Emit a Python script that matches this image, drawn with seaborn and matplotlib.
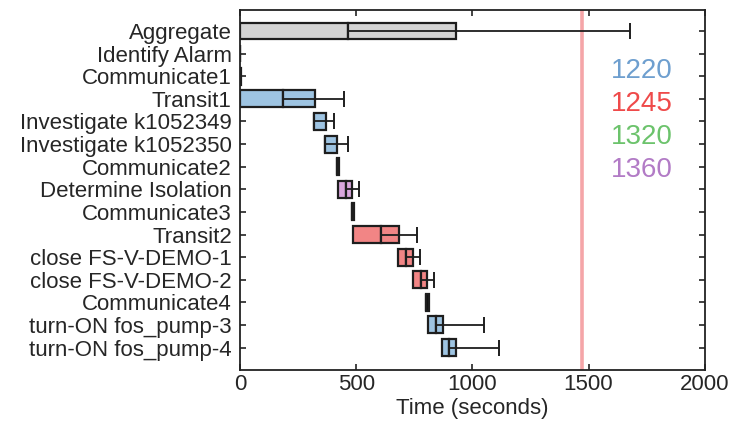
import numpy as np
import pandas as pd
import matplotlib
matplotlib.use("Agg")
import matplotlib.pyplot as plt
import seaborn as sns

# task rows, top to bottom
tasks = [
    "Aggregate",
    "Identify Alarm",
    "Communicate1",
    "Transit1",
    "Investigate k1052349",
    "Investigate k1052350",
    "Communicate2",
    "Determine Isolation",
    "Communicate3",
    "Transit2",
    "close FS-V-DEMO-1",
    "close FS-V-DEMO-2",
    "Communicate4",
    "turn-ON fos_pump-3",
    "turn-ON fos_pump-4",
]

# times in seconds
start = [0, 0, 0, 0, 318, 365, 418, 422, 480, 487, 680, 744, 802, 808, 871]
median = [465, 0, 0, 186, 318, 365, 418, 458, 480, 607, 716, 777, 802, 842, 899]
end = [928, 0, 6, 322, 368, 418, 427, 482, 492, 685, 744, 803, 812, 873, 930]
whisker = [1678, np.nan, np.nan, 448, 406, 465, np.nan, 512, np.nan,
           762, 776, 833, np.nan, 1048, 1113]

# which crew / colour group each row belongs to
group = ["all", "none", "none", "1220", "1220", "1220", "none", "1360", "none",
         "1245", "1245", "1245", "none", "1220", "1220"]

deadline = 1470

legend_labels = ["1220", "1245", "1320", "1360"]
legend_colors = ["#6e9fcf", "#ef4a4a", "#6cc36c", "#b27bc6"]

bar_colors = {"all": "#d4d4d4", "none": "#111111", "1220": "#9ec4e2",
              "1245": "#f28585", "1360": "#d9a6dd"}

df = pd.DataFrame({"task": tasks, "start": start, "median": median,
                   "end": end, "whisker": whisker, "group": group})
df["first"] = df["median"] - df["start"]
df["second"] = df["end"] - df["median"]

sns.set_style("ticks")
plt.rcParams["font.family"] = ["Liberation Sans", "DejaVu Sans"]

fig = plt.figure(figsize=(7.41, 4.25), dpi=100)
ax = fig.add_axes([0.324, 0.129, 0.627, 0.847])

# deadline line behind the bars
ax.axvline(deadline, color="#f5a5a8", lw=2.6, zorder=0)

# two stacked segments per row: start->median, median->end
sns.barplot(data=df, y="task", x="first", left=df["start"], orient="h",
            errorbar=None, width=0.75, color="white", edgecolor="#1e1e1e",
            linewidth=1.6, ax=ax)
sns.barplot(data=df, y="task", x="second", left=df["median"], orient="h",
            errorbar=None, width=0.75, color="white", edgecolor="#1e1e1e",
            linewidth=1.6, ax=ax)

cols = [bar_colors[g] for g in df["group"]] * 2
for patch, c in zip(ax.patches, cols):
    patch.set_facecolor(c)

# whiskers from the median out to the max
has_w = df["whisker"].notna()
ypos = np.arange(len(df))[has_w]
ax.errorbar(df.loc[has_w, "median"], ypos,
            xerr=[np.zeros(has_w.sum()), (df["whisker"] - df["median"])[has_w]],
            fmt="none", ecolor="#1e1e1e", elinewidth=1.3, capsize=6,
            capthick=1.4, zorder=5)

for i, (lab, c) in enumerate(zip(legend_labels, legend_colors)):
    ax.text(1730, 1.75 + 1.46 * i, lab, color=c, fontsize=20,
            ha="center", va="center")

ax.set_xlim(0, 2000)
ax.set_ylim(15.0, -0.92)
ax.set_xticks([0, 500, 1000, 1500, 2000])
ax.set_xlabel("Time (seconds)", fontsize=16, labelpad=2)
ax.set_ylabel("")
ax.tick_params(direction="in", top=True, right=True, length=4, width=1.2,
               labelsize=16, color="#222222")
ax.tick_params(axis="y", pad=6)
ax.tick_params(axis="x", pad=3)
for sp in ax.spines.values():
    sp.set_visible(True)
    sp.set_linewidth(1.3)
    sp.set_color("#222222")

fig.savefig("out.png", dpi=100)
